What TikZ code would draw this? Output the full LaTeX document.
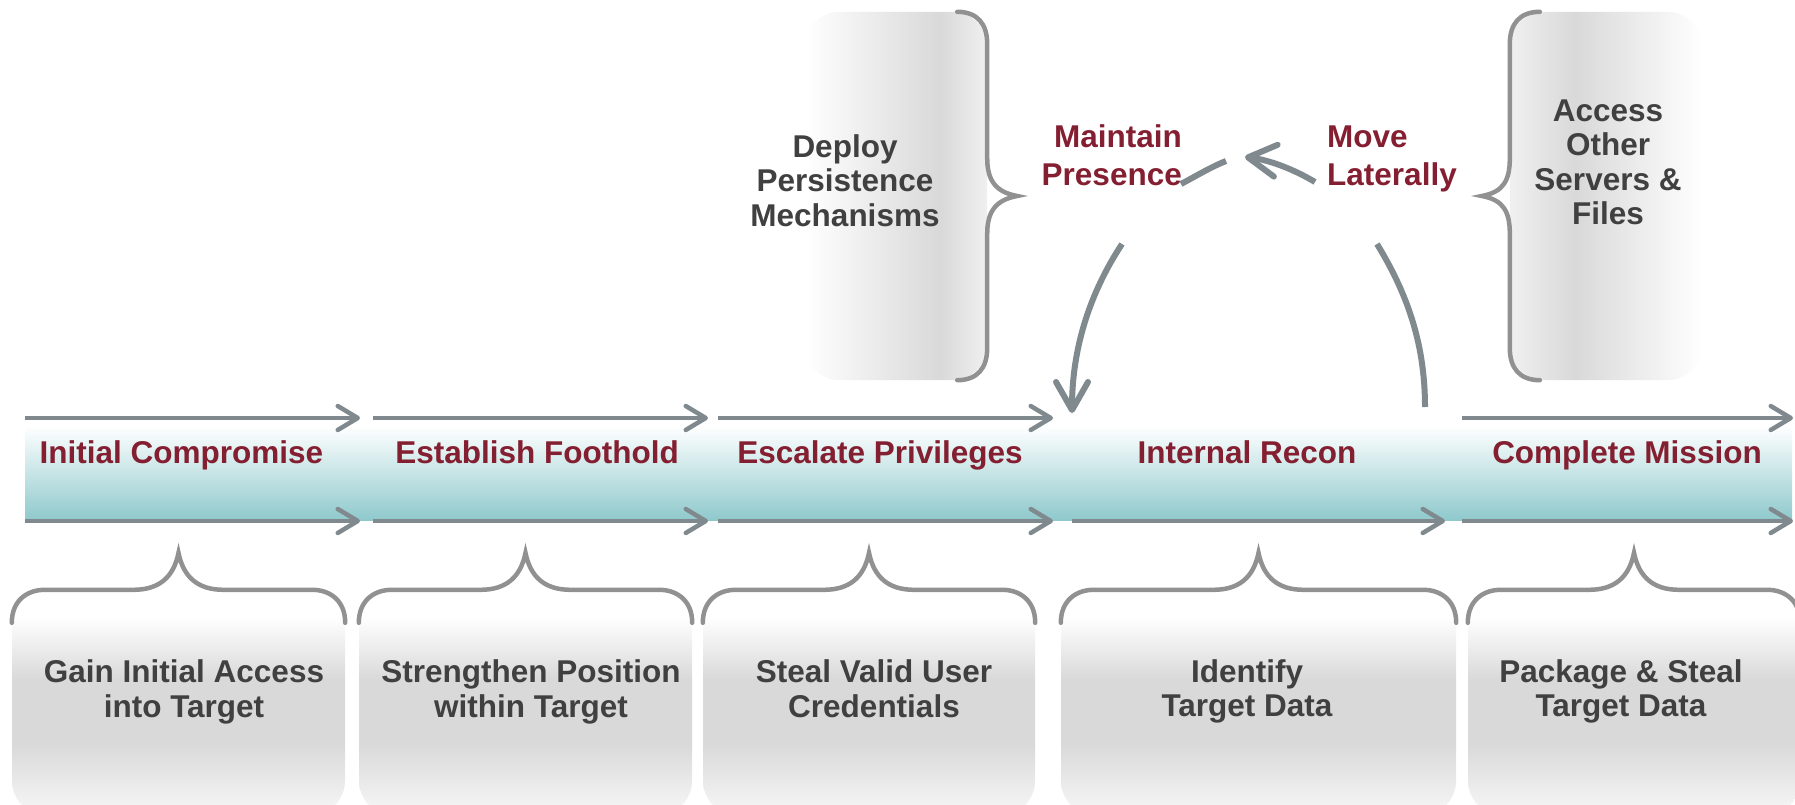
\documentclass[tikz,border=0pt]{standalone}
\usepackage{fontspec}
\setmainfont{Liberation Sans}
\usetikzlibrary{calc,arrows.meta}

\definecolor{flowgray}{RGB}{127,137,142}
\definecolor{bracegray}{RGB}{145,145,145}
\definecolor{stagered}{RGB}{132,31,49}
\definecolor{taskgray}{RGB}{64,64,64}
\definecolor{bandteal}{RGB}{143,201,204}
\colorlet{boxgray}{black!15}
\colorlet{boxlight}{black!6}
\colorlet{boxedge}{black!3}

\pgfdeclareverticalshading{taskfade}{100bp}{color(0bp)=(boxedge); color(25bp)=(boxedge); color(41bp)=(boxgray); color(55bp)=(boxgray); color(69bp)=(white); color(100bp)=(white)}
\pgfdeclarehorizontalshading{fadeleft}{100bp}{color(0bp)=(white); color(25bp)=(white); color(62bp)=(boxgray); color(75bp)=(boxlight); color(100bp)=(boxlight)}
\pgfdeclarehorizontalshading{faderight}{100bp}{color(0bp)=(boxlight); color(25bp)=(boxlight); color(42bp)=(boxgray); color(75bp)=(white); color(100bp)=(white)}

\begin{document}
\begin{tikzpicture}[x=1pt, y=-1pt,
  stage/.style={text=stagered, font=\fontsize{31.5}{38}\selectfont\bfseries, inner sep=0pt},
  task/.style={text=taskgray, font=\fontsize{31.5}{34.5}\selectfont\bfseries, align=center, inner sep=0pt},
  taskbox/.style={rounded corners=34pt, shade, shading=taskfade, minimum height=225pt},
  sidebox/.style={rounded corners=34pt, shade, minimum height=368pt},
  flow/.style={flowgray, line width=4.5pt, -{Straight Barb[length=20pt,width=24pt,round]}},
  cycle/.style={flowgray, line width=6pt},
  brace/.style={bracegray, line width=4.5pt, line cap=round}]

\useasboundingbox (0,0) rectangle (1795,805);

% band behind the stages
\shade [top color=white, bottom color=bandteal] (25,426) rectangle (1792,520);

\node [taskbox, minimum width=333pt] (B1) at (178.5,702.5) {};
\node [taskbox, minimum width=333pt] (B2) at (525.5,702.5) {};
\node [taskbox, minimum width=332pt] (B3) at (869,702.5) {};
\node [taskbox, minimum width=395pt] (B4) at (1258.5,702.5) {};
\node [taskbox, minimum width=332pt] (B5) at (1634,702.5) {};

\node [sidebox, shading=fadeleft, minimum width=182pt] (T1) at (896,196) {};
\node [sidebox, shading=faderight, minimum width=192pt] (T2) at (1606,196) {};

\node [stage, anchor=base] (S0) at (181.5,463) {Initial Compromise};
\node [stage, anchor=base] (S1) at (537,463) {Establish Foothold};
\node [stage, anchor=base] (S2) at (880,463) {Escalate Privileges};
\node [stage, anchor=base] (S3) at (1247,463) {Internal Recon};
\node [stage, anchor=base] (S4) at (1627,463) {Complete Mission};

\node [task] (G0) at (184,692) {Gain Initial Access\\into Target};
\node [task] (G1) at (531,692) {Strengthen Position\\within Target};
\node [task] (G2) at (874,688.5) {Steal Valid User\\Credentials};
\node [task] (G3) at (1247,691.5) {Identify\\Target Data};
\node [task] (G4) at (1621,691.5) {Package \& Steal\\Target Data};

\node [task] (D0) at (845,180.5) {Deploy\\Persistence\\Mechanisms};
\node [task] (D1) at (1608,162.5) {Access\\Other\\Servers \&\\Files};

\node [stage, align=right, anchor=east] (M0) at (1182,155) {Maintain\\Presence};
\node [stage, align=left, anchor=west] (M1) at (1327,158.5) {Move\\Laterally};

% arrows above and below the band
\coordinate (U0) at (25,418);   \coordinate (U1) at (360,418);
\coordinate (U2) at (373,418);  \coordinate (U3) at (708,418);
\coordinate (U4) at (718,418);  \coordinate (U5) at (1053,418);
\coordinate (U6) at (1462,418); \coordinate (U7) at (1793,418);
\coordinate (L0) at (25,521);   \coordinate (L1) at (360,521);
\coordinate (L2) at (373,521);  \coordinate (L3) at (708,521);
\coordinate (L4) at (718,521);  \coordinate (L5) at (1053,521);
\coordinate (L6) at (1072,521); \coordinate (L7) at (1445,521);
\coordinate (L8) at (1462,521); \coordinate (L9) at (1793,521);

\draw [flow] (U0) -- (U1);
\draw [flow] (U2) -- (U3);
\draw [flow] (U4) -- (U5);
\draw [flow] (U6) -- (U7);
\draw [flow] (L0) -- (L1);
\draw [flow] (L2) -- (L3);
\draw [flow] (L4) -- (L5);
\draw [flow] (L6) -- (L7);
\draw [flow] (L8) -- (L9);

% the recon loop
\coordinate (C0) at (1122,244);  \coordinate (C1) at (1072,413);
\coordinate (C2) at (1181,184);  \coordinate (C3) at (1226,161);
\coordinate (C4) at (1315,182);  \coordinate (C5) at (1245,157);
\coordinate (C6) at (1377,244);  \coordinate (C7) at (1425,407);

\draw [cycle, -{Straight Barb[length=28pt,width=32pt,round]}]
(C0) .. controls (1095,285) and (1072,340) .. (C1);
\draw [cycle] (C2) .. controls (1196,176) and (1211,167) .. (C3);
\draw [cycle, -{Straight Barb[length=28pt,width=32pt,round]}]
(C4) .. controls (1295,170) and (1270,160) .. (C5);
\draw [cycle] (C6) .. controls (1405,290) and (1425,340) .. (C7);

% braces
\draw [brace]
($ (B1.north west) + (0,33) $) .. controls +(0,-22) and +(-18,0) .. ($ (B1.north west) + (33,0) $)
-- ($ (B1.north) + (-45,0) $) .. controls +(25,0) and +(-5,25) .. ($ (B1.north) + (0,-37) $)
.. controls +(5,25) and +(-25,0) .. ($ (B1.north) + (45,0) $)
-- ($ (B1.north east) + (-33,0) $) .. controls +(18,0) and +(0,-22) .. ($ (B1.north east) + (0,33) $);
\draw [brace]
($ (B2.north west) + (0,33) $) .. controls +(0,-22) and +(-18,0) .. ($ (B2.north west) + (33,0) $)
-- ($ (B2.north) + (-45,0) $) .. controls +(25,0) and +(-5,25) .. ($ (B2.north) + (0,-37) $)
.. controls +(5,25) and +(-25,0) .. ($ (B2.north) + (45,0) $)
-- ($ (B2.north east) + (-33,0) $) .. controls +(18,0) and +(0,-22) .. ($ (B2.north east) + (0,33) $);
\draw [brace]
($ (B3.north west) + (0,33) $) .. controls +(0,-22) and +(-18,0) .. ($ (B3.north west) + (33,0) $)
-- ($ (B3.north) + (-45,0) $) .. controls +(25,0) and +(-5,25) .. ($ (B3.north) + (0,-37) $)
.. controls +(5,25) and +(-25,0) .. ($ (B3.north) + (45,0) $)
-- ($ (B3.north east) + (-33,0) $) .. controls +(18,0) and +(0,-22) .. ($ (B3.north east) + (0,33) $);
\draw [brace]
($ (B4.north west) + (0,33) $) .. controls +(0,-22) and +(-18,0) .. ($ (B4.north west) + (33,0) $)
-- ($ (B4.north) + (-45,0) $) .. controls +(25,0) and +(-5,25) .. ($ (B4.north) + (0,-37) $)
.. controls +(5,25) and +(-25,0) .. ($ (B4.north) + (45,0) $)
-- ($ (B4.north east) + (-33,0) $) .. controls +(18,0) and +(0,-22) .. ($ (B4.north east) + (0,33) $);
\draw [brace]
($ (B5.north west) + (0,33) $) .. controls +(0,-22) and +(-18,0) .. ($ (B5.north west) + (33,0) $)
-- ($ (B5.north) + (-45,0) $) .. controls +(25,0) and +(-5,25) .. ($ (B5.north) + (0,-37) $)
.. controls +(5,25) and +(-25,0) .. ($ (B5.north) + (45,0) $)
-- ($ (B5.north east) + (-33,0) $) .. controls +(18,0) and +(0,-22) .. ($ (B5.north east) + (0,33) $);

\draw [brace]
($ (T1.north east) + (-30,0) $) .. controls +(20,0) and +(0,-20) .. ($ (T1.north east) + (0,32) $)
-- ($ (T1.east) + (0,-38) $) .. controls +(0,22) and +(-22,-4) .. ($ (T1.east) + (30,0) $)
.. controls +(-22,4) and +(0,-22) .. ($ (T1.east) + (0,38) $)
-- ($ (T1.south east) + (0,-32) $) .. controls +(0,20) and +(20,0) .. ($ (T1.south east) + (-30,0) $);
\draw [brace]
($ (T2.north west) + (30,0) $) .. controls +(-20,0) and +(0,-20) .. ($ (T2.north west) + (0,32) $)
-- ($ (T2.west) + (0,-38) $) .. controls +(0,22) and +(22,-4) .. ($ (T2.west) + (-28,0) $)
.. controls +(22,4) and +(0,-22) .. ($ (T2.west) + (0,38) $)
-- ($ (T2.south west) + (0,-32) $) .. controls +(0,20) and +(-20,0) .. ($ (T2.south west) + (30,0) $);

\end{tikzpicture}
\end{document}
